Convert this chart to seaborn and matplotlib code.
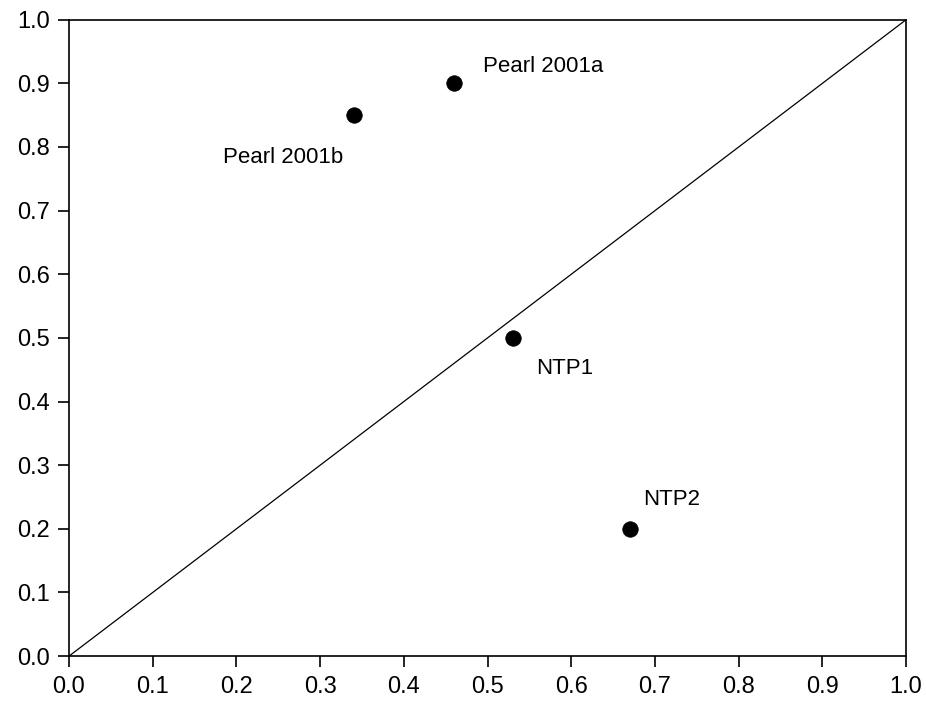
import numpy as np
import pandas as pd
import matplotlib
matplotlib.use('Agg')
import matplotlib.pyplot as plt
import seaborn as sns

# study points
studies = ['Pearl 2001a', 'Pearl 2001b', 'NTP1', 'NTP2']
x_vals = [0.46, 0.34, 0.53, 0.67]
y_vals = [0.90, 0.85, 0.50, 0.20]
# label anchor points (left edge, baseline)
label_x = [0.494, 0.184, 0.558, 0.686]
label_y = [0.918, 0.775, 0.443, 0.237]
ticks = [0.0, 0.1, 0.2, 0.3, 0.4, 0.5, 0.6, 0.7, 0.8, 0.9, 1.0]

sns.set_style('ticks')
plt.rcParams['font.family'] = ['Liberation Sans', 'DejaVu Sans']

data = pd.DataFrame({'x': x_vals, 'y': y_vals, 'study': studies})

fig = plt.figure(figsize=(9.26, 7.04), dpi=100)
ax = fig.add_axes([0.0745, 0.068, 0.904, 0.904])

# identity line
ax.plot([0, 1], [0, 1], color='black', linewidth=0.9)
sns.scatterplot(data=data, x='x', y='y', color='black', s=125,
                edgecolor='black', linewidth=0.5, ax=ax, zorder=3)

for lx, ly, name in zip(label_x, label_y, studies):
    ax.text(lx, ly, name, fontsize=16, va='baseline', ha='left', color='black')

ax.set_xlim(0, 1)
ax.set_ylim(0, 1)
ax.set_xticks(ticks)
ax.set_yticks(ticks)
ax.set_xticklabels([f'{t:.1f}' for t in ticks])
ax.set_yticklabels([f'{t:.1f}' for t in ticks])
ax.tick_params(direction='out', length=8, width=1.2, labelsize=17, pad=6,
               colors='black')
for sp in ax.spines.values():
    sp.set_linewidth(1.2)
    sp.set_color('black')
ax.set_xlabel('')
ax.set_ylabel('')

fig.savefig('out.png', dpi=100)
